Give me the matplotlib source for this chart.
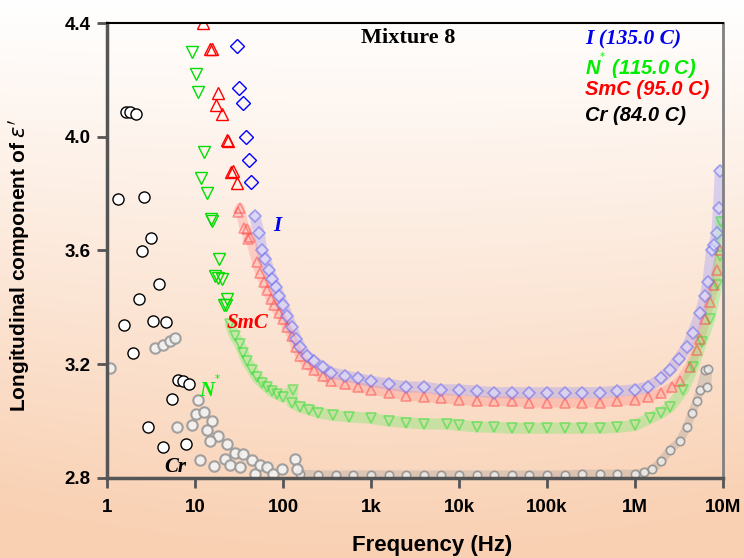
import matplotlib
matplotlib.use("Agg")
import matplotlib.pyplot as plt
import numpy as np

plt.rcParams['font.family'] = ['Liberation Sans', 'DejaVu Sans']

# ---- data (frequency in Hz, epsilon') ----
# I (135.0 C): clean low-frequency diamonds, then the dense curve
i_f_low = [29.7, 31.8, 34.8, 37.7, 40.7, 43.6]
i_v_low = [4.32, 4.17, 4.12, 4.00, 3.92, 3.84]
i_f = [47.9, 53.7, 57.5, 63.1, 69.2, 75.9, 83.2, 91.2, 100, 112, 126, 141, 158,
       186, 224, 282, 355, 501, 708, 1000, 1585, 2512, 3981, 6310, 1e4, 15850,
       25120, 39810, 63100, 1e5, 158500, 251200, 398100, 631000, 1e6, 1.41e6,
       2.0e6, 2.51e6, 3.16e6, 3.89e6, 4.57e6, 5.5e6, 6.31e6, 6.76e6, 7.41e6,
       7.94e6, 8.51e6, 8.91e6, 9.33e6]
i_v = [3.72, 3.66, 3.60, 3.57, 3.53, 3.50, 3.47, 3.44, 3.41, 3.37, 3.33, 3.29, 3.26,
       3.23, 3.21, 3.19, 3.17, 3.16, 3.15, 3.14, 3.13, 3.12, 3.12, 3.11, 3.11, 3.105,
       3.10, 3.10, 3.10, 3.10, 3.10, 3.10, 3.10, 3.105, 3.11, 3.12,
       3.15, 3.18, 3.22, 3.26, 3.31, 3.38, 3.44, 3.49, 3.60,
       3.62, 3.66, 3.75, 3.88]

# SmC (95.0 C)
smc_f_low = [12.3, 14.8, 15.5, 17.2, 18.4, 20.1, 22.9, 24.0, 25.7, 26.9, 29.7]
smc_v_low = [4.40, 4.31, 4.31, 4.11, 4.155, 4.08, 3.99, 3.985, 3.875, 3.88, 3.837]
smc_f = [30.9, 32.4, 36.3, 38.9, 39.8, 42.2, 50.1, 55.0, 60.3, 66.1, 72.4, 79.4,
         89.1, 100, 112, 126, 141, 158, 186, 224, 282, 355, 501, 708, 1000, 1585,
         2512, 3981, 6310, 1e4, 15850, 25120, 39810, 63100, 1e5, 158500, 251200,
         398100, 631000, 1e6, 1.41e6, 2.0e6, 2.63e6, 3.24e6, 4.17e6, 5.01e6,
         5.5e6, 6.31e6, 7.08e6, 7.94e6, 8.51e6, 9.33e6]
smc_v = [3.735, 3.75, 3.68, 3.677, 3.64, 3.647, 3.56, 3.52, 3.49, 3.46, 3.43, 3.41,
         3.38, 3.36, 3.33, 3.30, 3.26, 3.23, 3.20, 3.18, 3.16, 3.14, 3.13, 3.12, 3.11, 3.10,
         3.09, 3.085, 3.08, 3.075, 3.07, 3.07, 3.07, 3.065, 3.065, 3.065, 3.065,
         3.065, 3.07, 3.075, 3.085, 3.10, 3.12, 3.14, 3.19, 3.25,
         3.29, 3.36, 3.42, 3.48, 3.53, 3.60]

# N* (115.0 C)
n_f_low = [9.33, 10.2, 10.9, 12.6, 11.7, 13.6, 15.1, 15.7, 18.7, 17.0, 18.2, 20.1,
           23.3, 21.4, 22.4]
n_v_low = [4.297, 4.222, 4.157, 3.946, 3.855, 3.802, 3.71, 3.705, 3.569, 3.509,
           3.505, 3.501, 3.431, 3.407, 3.41]
n_f = [25.1, 28.2, 32.4, 35.5, 38.9, 44.7, 50.1, 57.5, 65.3, 74.1, 85.1, 100, 129,
       126, 155, 200, 251, 372, 562, 1000, 1585, 2512, 3981, 7244, 1e4, 15850,
       25120, 39810, 63100, 1e5, 158500, 251200, 398100, 631000, 1e6, 1.48e6,
       2.0e6, 2.51e6, 3.55e6, 4.57e6, 5.75e6, 7.08e6, 8.51e6, 9.33e6, 9.55e6]
n_v = [3.34, 3.30, 3.27, 3.24, 3.21, 3.18, 3.155, 3.135, 3.12, 3.105, 3.095, 3.085, 3.108,
       3.065, 3.05, 3.04, 3.03, 3.02, 3.015, 3.01, 3.00, 2.995, 2.99, 2.99, 2.985, 2.98,
       2.978, 2.975, 2.975, 2.975, 2.975, 2.975, 2.975, 2.978, 2.985, 3.01,
       3.03, 3.05, 3.11, 3.19, 3.28, 3.36, 3.48, 3.58, 3.70]

# Cr (84.0 C): open circles at the lowest frequencies
cr_f_open = [1.64, 1.82, 2.14, 1.34, 2.65, 3.16, 2.48, 3.93, 2.31, 1.56, 3.36, 4.65,
             1.96, 6.46, 7.24, 8.61, 5.43, 2.94, 4.30, 7.91]
cr_v_open = [4.087, 4.086, 4.079, 3.782, 3.788, 3.645, 3.598, 3.481, 3.428, 3.339,
             3.352, 3.349, 3.239, 3.143, 3.14, 3.13, 3.077, 2.979, 2.909, 2.921]
# Cr grey scattered points
cr_f_grey = [1.07, 3.51, 4.37, 5.2, 5.93, 10.7, 10.2, 12.8, 6.31, 9.33, 15.8, 13.6,
             18.4, 14.8, 22.9, 11.4, 16.6, 21.9, 28.5, 35.5, 25.1, 32.4, 44.2, 47.9,
             55.0, 65.3, 77.6, 96.6, 137, 143]
cr_v_grey = [3.187, 3.256, 3.266, 3.283, 3.294, 3.073, 3.026, 3.032, 2.979, 2.985,
             3.0, 2.97, 2.947, 2.929, 2.921, 2.865, 2.841, 2.868, 2.888, 2.886, 2.845,
             2.839, 2.862, 2.815, 2.845, 2.839, 2.815, 2.833, 2.868, 2.833]
# Cr dense curve
cr_f = [158, 251, 398, 631, 1000, 1585, 2512, 3981, 6310, 1e4, 15850, 25120, 39810,
        63100, 1e5, 158500, 251200, 398100, 631000, 1e6, 1.26e6, 1.58e6, 2.0e6,
        2.51e6, 3.24e6, 3.89e6, 4.47e6, 5.01e6, 5.5e6, 6.31e6, 6.61e6, 6.76e6]
cr_v = [2.815, 2.812, 2.812, 2.812, 2.812, 2.812, 2.812, 2.812, 2.812, 2.812, 2.812,
        2.812, 2.812, 2.812, 2.812, 2.812, 2.815, 2.815, 2.815, 2.815, 2.82, 2.83,
        2.86, 2.90, 2.93, 2.98, 3.03, 3.07, 3.11, 3.18, 3.12, 3.185]

xticks = [1, 10, 100, 1e3, 1e4, 1e5, 1e6, 1e7]
xtick_labels = ['1', '10', '100', '1k', '10k', '100k', '1M', '10M']
yticks = [2.8, 3.2, 3.6, 4.0, 4.4]

fig = plt.figure(figsize=(7.44, 5.58), dpi=100)

# background gradient: white at top, peach at the bottom
bg = fig.add_axes([0, 0, 1, 1], zorder=-10)
yy, xx = np.mgrid[0:1:300j, 0:1:300j]
t = np.clip(yy ** 1.05 + 0.35 * np.abs(xx - 0.5) ** 2 * yy, 0, 1)
top = np.array([1.0, 1.0, 1.0])
bottom = np.array([249, 208, 178]) / 255
img = top[None, None, :] * (1 - t[..., None]) + bottom[None, None, :] * t[..., None]
bg.imshow(img, aspect='auto', extent=[0, 1, 1, 0])
bg.axis('off')

ax = fig.add_axes([107/744, 80/558, 616/744, 455/558])
ax.patch.set_alpha(0)

# dense curves: light thick band + faded markers
ax.plot(i_f, i_v, '-', color='#8888ff', lw=8, alpha=0.3, solid_capstyle='round')
ax.plot(smc_f, smc_v, '-', color='#ff7070', lw=7, alpha=0.25, solid_capstyle='round')
ax.plot(n_f, n_v, '-', color='#55ee55', lw=8, alpha=0.3, solid_capstyle='round')
ax.plot(cr_f, cr_v, '-', color='#999999', lw=6, alpha=0.3, solid_capstyle='round')

ax.plot(cr_f, cr_v, 'o', ms=6, mfc='#eeeeee', mec='#888888', mew=1.2, alpha=0.8)
ax.plot(n_f, n_v, 'v', ms=7, mfc='none', mec='#33dd33', mew=1.2, alpha=0.55)
ax.plot(smc_f, smc_v, '^', ms=7, mfc='none', mec='#ff4444', mew=1.2, alpha=0.5)
ax.plot(i_f, i_v, 'D', ms=6, mfc='#e0e0ff', mec='#6666ee', mew=1.2, alpha=0.55)

# clean low-frequency points
ax.plot(i_f_low, i_v_low, 'D', ms=7, mfc='none', mec='#0000ff', mew=1.0)
ax.plot(smc_f_low, smc_v_low, '^', ms=9, mfc='none', mec='#ff0000', mew=1.0)
ax.plot(n_f_low, n_v_low, 'v', ms=9, mfc='none', mec='#00dd00', mew=1.0)
ax.plot(cr_f_open, cr_v_open, 'o', ms=8, mfc='white', mec='black', mew=1.0)
ax.plot(cr_f_grey, cr_v_grey, 'o', ms=7.5, mfc='#f2f2f2', mec='#999999', mew=1.5, alpha=0.9)

ax.set_xscale('log')
ax.set_xlim(1, 1e7)
ax.set_ylim(2.8, 4.4)
ax.set_xticks(xticks)
ax.set_xticklabels(xtick_labels)
ax.minorticks_off()
ax.set_yticks(yticks)
ax.set_yticklabels(['%.1f' % v for v in yticks])
ax.tick_params(direction='out', length=7, width=2, color='#555555', labelsize=13.5)
ax.tick_params(axis='x', pad=8)
ax.tick_params(axis='y', pad=5)
for lab in ax.get_xticklabels() + ax.get_yticklabels():
    lab.set_fontweight('bold')

ax.spines['left'].set_color('#555555')
ax.spines['left'].set_linewidth(2.5)
ax.spines['bottom'].set_color('#555555')
ax.spines['bottom'].set_linewidth(2.5)
ax.spines['top'].set_color('black')
ax.spines['top'].set_linewidth(1.5)
ax.spines['right'].set_color('#808080')
ax.spines['right'].set_linewidth(2)

ax.set_xlabel('Frequency (Hz)', fontsize=16, fontweight='bold')
ax.xaxis.set_label_coords(0.528, -0.125)
ax.set_ylabel("Longitudinal component of $\\epsilon'$", fontsize=15, fontweight='bold')
ax.yaxis.set_label_coords(-0.122, 0.468)

serif = ['Liberation Serif', 'DejaVu Serif']
ax.text(0.489, 0.968, 'Mixture 8', transform=ax.transAxes, ha='center', va='center',
        fontsize=16, fontweight='bold', family=serif)

star = '$^{{}^{*}}$'
ax.text(0.776, 0.963, 'I (135.0 C)', transform=ax.transAxes, va='center',
        fontsize=15.5, fontweight='bold', style='italic', color='#0000ee', family=serif)
ax.text(0.776, 0.903, 'N' + star + ' (115.0 C)', transform=ax.transAxes, va='center',
        fontsize=14.5, fontweight='bold', style='italic', color='#00ee00')
ax.text(0.776, 0.853, 'SmC (95.0 C)', transform=ax.transAxes, va='center',
        fontsize=14.5, fontweight='bold', style='italic', color='#ff0000')
ax.text(0.776, 0.796, 'Cr (84.0 C)', transform=ax.transAxes, va='center',
        fontsize=14.5, fontweight='bold', style='italic', color='black')

# curve labels
ax.text(85, 3.685, 'I', ha='center', va='center', fontsize=15, fontweight='bold',
        style='italic', color='#0000ee', family=serif)
ax.text(39, 3.344, 'SmC', ha='center', va='center', fontsize=15, fontweight='bold',
        style='italic', color='#ff0000', family=serif)
ax.text(14.8, 3.115, 'N' + star, ha='center', va='center', fontsize=15, fontweight='bold',
        style='italic', color='#00ee00', family=serif)
ax.text(6.0, 2.838, 'Cr', ha='center', va='center', fontsize=15, fontweight='bold',
        style='italic', color='black', family=serif)

fig.savefig('out.png', dpi=100)
